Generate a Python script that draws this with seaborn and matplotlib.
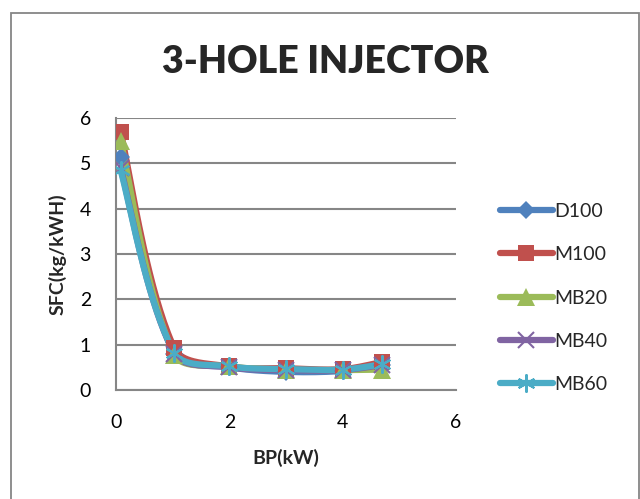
import numpy as np
import pandas as pd
import matplotlib
matplotlib.use("Agg")
import matplotlib.pyplot as plt
from matplotlib.patches import Rectangle
from matplotlib.lines import Line2D
import seaborn as sns

# Brake power (kW) and specific fuel consumption (kg/kWH) per fuel blend
bp = [0.08, 1.03, 2.0, 3.0, 4.0, 4.7]
d100 = [5.15, 0.80, 0.50, 0.40, 0.42, 0.55]
m100 = [5.70, 0.92, 0.52, 0.48, 0.46, 0.62]
mb20 = [5.50, 0.78, 0.52, 0.45, 0.44, 0.45]
mb40 = [4.90, 0.80, 0.50, 0.44, 0.44, 0.55]
mb60 = [4.85, 0.82, 0.52, 0.46, 0.45, 0.57]
series_names = ["D100", "M100", "MB20", "MB40", "MB60"]
x_ticks = [0, 2, 4, 6]
y_ticks = [0, 1, 2, 3, 4, 5, 6]

colors = ["#4F81BD", "#C0504D", "#9BBB59", "#8064A2", "#4BACC6"]
markers = ["D", "s", "^", "x", (6, 2, 0)]
msizes = [9, 12, 13, 11, 13]

sns.set_theme(style="white")
plt.rcParams["font.family"] = ["Lato", "DejaVu Sans"]

# rough on-screen scale of one axis unit, used to weight the curve tangents
X_SCALE, Y_SCALE = 57.0, 45.0


def smooth(xs, ys, n=40):
    """Bezier smoothing through every point, tangents weighted by segment length."""
    P = np.column_stack([xs, ys]).astype(float)
    S = P * [X_SCALE, Y_SCALE]
    out = []
    m = len(P)
    for i in range(m - 1):
        i0, i3 = max(i - 1, 0), min(i + 2, m - 1)
        d01 = np.linalg.norm(S[i] - S[i0])
        d12 = np.linalg.norm(S[i + 1] - S[i])
        d23 = np.linalg.norm(S[i3] - S[i + 1])
        w1 = d12 / (d01 + d12) if d01 > 0 else 0.5
        w2 = d12 / (d12 + d23) if d23 > 0 else 0.5
        c1 = P[i] + (P[i + 1] - P[i0]) * w1 / 3.0
        c2 = P[i + 1] - (P[i3] - P[i]) * w2 / 3.0
        t = np.linspace(0, 1, n)[:, None]
        seg = ((1 - t) ** 3) * P[i] + 3 * ((1 - t) ** 2) * t * c1 \
            + 3 * (1 - t) * t ** 2 * c2 + t ** 3 * P[i + 1]
        out.append(seg if i == 0 else seg[1:])
    s = np.vstack(out)
    return s[:, 0], s[:, 1]


fig = plt.figure(figsize=(6.4, 4.99), dpi=100)
fig.patch.set_facecolor("white")
fig.patches.append(Rectangle((10.5 / 640, -0.05), 628.5 / 640, 1 - 13 / 499 + 0.05,
                             transform=fig.transFigure, fill=False,
                             edgecolor="#868686", linewidth=1.3))

ax = fig.add_axes([116 / 640, 1 - 390 / 499, 340 / 640, 272 / 499])

all_series = [d100, m100, mb20, mb40, mb60]
frames = []
for name, vals in zip(series_names, all_series):
    sx, sy = smooth(bp, vals)
    frames.append(pd.DataFrame({"BP": sx, "SFC": sy, "Fuel": name}))
curve_df = pd.concat(frames, ignore_index=True)

sns.lineplot(data=curve_df, x="BP", y="SFC", hue="Fuel", palette=colors,
             hue_order=series_names, sort=False, estimator=None, units="Fuel",
             linewidth=4.5, legend=False, ax=ax, zorder=3)

for name, vals, c, m, ms in zip(series_names, all_series, colors, markers, msizes):
    mew = 1.5 if m in ("x", (6, 2, 0)) else 0
    ax.plot(bp, vals, linestyle="none", marker=m, markersize=ms, color=c,
            markeredgecolor=c, markeredgewidth=mew, zorder=4)

ax.set_xlim(0, 6)
ax.set_ylim(0, 6)
ax.set_xticks(x_ticks)
ax.set_yticks(y_ticks)
ax.tick_params(axis="both", labelsize=14, colors="black", length=0)
ax.tick_params(axis="y", pad=18)
ax.tick_params(axis="x", pad=17)
ax.yaxis.grid(True, color="#868686", linewidth=1.5)
ax.xaxis.grid(False)
for side in ["top", "right"]:
    ax.spines[side].set_visible(False)
for side in ["left", "bottom"]:
    ax.spines[side].set_color("#868686")
    ax.spines[side].set_linewidth(1.5)

ax.set_xlabel("BP(kW)", fontsize=14, fontweight="bold")
ax.set_ylabel("SFC(kg/kWH)", fontsize=14, fontweight="bold")
ax.xaxis.set_label_coords(0.5, (390 - 449) / 272)
ax.yaxis.set_label_coords((67 - 116) / 340, 0.5)

fig.text(325 / 640, 1 - 62 / 499, "3-HOLE INJECTOR", ha="center", va="center",
         fontsize=27, fontweight="heavy")

handles = [Line2D([0], [0], color=c, linewidth=4.5, marker=m, markersize=ms,
                  markeredgecolor=c, markeredgewidth=(1.5 if m in ("x", (6, 2, 0)) else 0))
           for c, m, ms in zip(colors, markers, msizes)]
fig.legend(handles, series_names, loc="center left", bbox_to_anchor=(500 / 640, 1 - 298 / 499),
           frameon=False, fontsize=14, handlelength=2.7, handletextpad=0.1,
           labelspacing=1.35, borderaxespad=0, borderpad=0)

fig.savefig("out.png", dpi=100, facecolor="white")
